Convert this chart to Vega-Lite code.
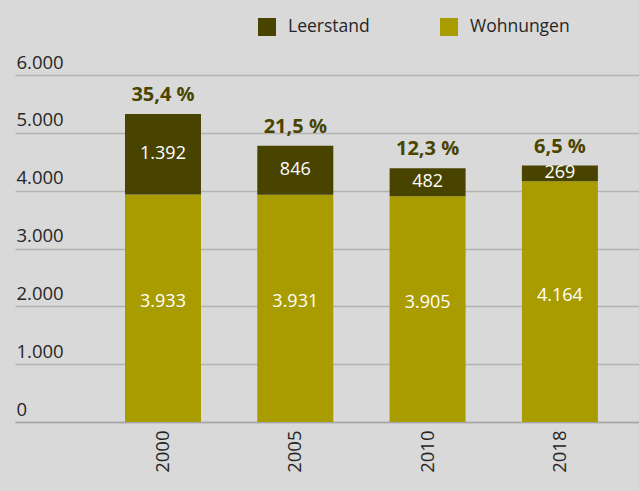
{
  "$schema": "https://vega.github.io/schema/vega-lite/v6.json",
  "width": 624,
  "height": 347,
  "autosize": {"type": "none"},
  "padding": {"left": 15, "top": 75, "right": 0, "bottom": 69},
  "background": "#d9d9d9",
  "config": {
    "locale": {"number": {"decimal": ",", "thousands": ".", "grouping": [3], "currency": ["", " €"]}},
    "view": {"stroke": null},
    "font": "Open Sans"
  },
  "data": {
    "values": [
      {"year": "2000", "category": "Wohnungen", "value": 3933, "pct": "35,4 %"},
      {"year": "2000", "category": "Leerstand", "value": 1392, "pct": "35,4 %"},
      {"year": "2005", "category": "Wohnungen", "value": 3931, "pct": "21,5 %"},
      {"year": "2005", "category": "Leerstand", "value": 846, "pct": "21,5 %"},
      {"year": "2010", "category": "Wohnungen", "value": 3905, "pct": "12,3 %"},
      {"year": "2010", "category": "Leerstand", "value": 482, "pct": "12,3 %"},
      {"year": "2018", "category": "Wohnungen", "value": 4164, "pct": "6,5 %"},
      {"year": "2018", "category": "Leerstand", "value": 269, "pct": "6,5 %"}
    ]
  },
  "layer": [
    {
      "mark": {"type": "bar"},
      "encoding": {
        "x": {
          "field": "year", "type": "nominal",
          "scale": {"paddingInner": 0.4256, "paddingOuter": 0.571, "align": 0.728},
          "axis": {
            "title": null, "labelAngle": -90, "labelPadding": 8, "labelFontSize": 18.5,
            "labelFontWeight": 400, "labelColor": "#262626", "ticks": false,
            "domain": true, "domainColor": "#a6a6a6", "domainWidth": 1.5
          }
        },
        "y": {
          "field": "value", "type": "quantitative",
          "scale": {"domain": [0, 6000]},
          "axis": {
            "title": null, "values": [0, 1000, 2000, 3000, 4000, 5000, 6000],
            "format": ",d", "domain": false, "ticks": false, "tickSize": 0,
            "labelAlign": "left", "labelPadding": -1, "labelBaseline": "alphabetic",
            "labelOffset": -7, "labelFontSize": 18.5, "labelFontWeight": 400,
            "labelColor": "#262626", "gridColor": "#b3b3b3", "gridWidth": 1.5
          }
        },
        "color": {
          "field": "category", "type": "nominal",
          "scale": {"domain": ["Leerstand", "Wohnungen"], "range": ["#494300", "#a99c00"]},
          "legend": {
            "title": null, "orient": "none", "legendX": 243, "legendY": -57,
            "direction": "horizontal", "symbolType": "square", "symbolSize": 324,
            "symbolStrokeWidth": 0, "symbolOpacity": 1, "labelFontSize": 17.5,
            "labelFontWeight": 400, "labelOffset": 12, "columnPadding": 70,
            "labelColor": "#262626"
          }
        },
        "order": {"field": "category", "sort": "descending"}
      }
    },
    {
      "transform": [
        {"stack": "value", "groupby": ["year"], "sort": [{"field": "category", "order": "descending"}], "as": ["v0", "v1"]},
        {"filter": "datum.category === 'Leerstand'"},
        {"fold": ["v0", "v1"], "as": ["k", "pos"]}
      ],
      "mark": {"type": "text", "color": "white", "fontSize": 18, "fontWeight": 400, "baseline": "middle"},
      "encoding": {
        "x": {"field": "year", "type": "nominal"},
        "y": {"field": "pos", "aggregate": "mean", "type": "quantitative", "stack": null},
        "text": {"field": "value", "type": "quantitative", "format": ",d"},
        "detail": {"field": "category"}
      }
    },
    {
      "transform": [
        {"stack": "value", "groupby": ["year"], "sort": [{"field": "category", "order": "descending"}], "as": ["v0", "v1"]},
        {"filter": "datum.category === 'Wohnungen'"},
        {"fold": ["v0", "v1"], "as": ["k", "pos"]}
      ],
      "mark": {"type": "text", "color": "white", "fontSize": 18, "fontWeight": 400, "baseline": "middle", "dy": -6},
      "encoding": {
        "x": {"field": "year", "type": "nominal"},
        "y": {"field": "pos", "aggregate": "mean", "type": "quantitative", "stack": null},
        "text": {"field": "value", "type": "quantitative", "format": ",d"},
        "detail": {"field": "category"}
      }
    },
    {
      "mark": {"type": "text", "color": "#4a4400", "fontSize": 20, "fontWeight": "bold", "baseline": "alphabetic", "dy": -13},
      "encoding": {
        "x": {"field": "year", "type": "nominal"},
        "y": {"field": "value", "aggregate": "sum", "type": "quantitative", "stack": null},
        "text": {"field": "pct", "type": "nominal"}
      }
    }
  ]
}
